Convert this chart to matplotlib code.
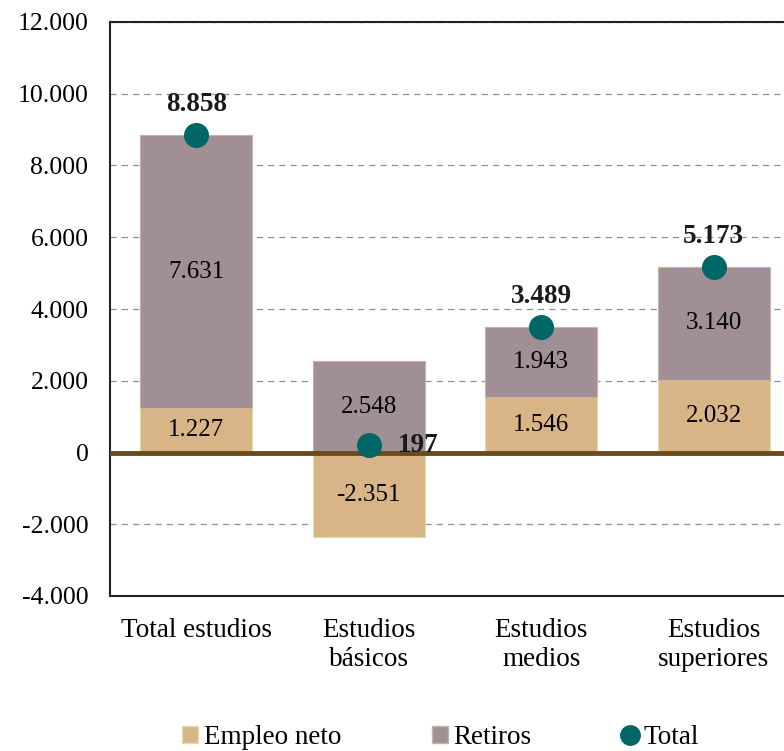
import numpy as np
import matplotlib
matplotlib.use('Agg')
from matplotlib import pyplot as plt
from matplotlib.lines import Line2D
from matplotlib.patches import Patch

categories = ['Total estudios', 'Estudios\nbásicos', 'Estudios\nmedios', 'Estudios\nsuperiores']
empleo_neto = [1227, -2351, 1546, 2032]
retiros = [7631, 2548, 1943, 3140]
total = [8858, 197, 3489, 5173]

def fmt(v):
    # Spanish thousands separator
    s = '{:,}'.format(int(v)).replace(',', '.')
    return s

plt.rcParams['font.family'] = ['Liberation Serif', 'DejaVu Serif']

c_emp = '#D8B487'
c_ret = '#A09096'
c_tot = '#006666'

fig = plt.figure(figsize=(7.84, 7.51), dpi=100)
ax = fig.add_axes([110 / 784, 155 / 751, 690 / 784, 574 / 751])

x = np.arange(len(categories))
w = 0.65
emp = np.array(empleo_neto)
ret = np.array(retiros)
bottom_ret = np.where(emp > 0, emp, 0)

ax.bar(x, emp, w, color=c_emp, edgecolor='#D9E3A8', linewidth=0.8, zorder=2)
ax.bar(x, ret, w, bottom=bottom_ret, color=c_ret, edgecolor='#C8B49A', linewidth=0.8, zorder=2)
ax.axhline(0, color='#6B4A1E', linewidth=3.5, zorder=3)
ax.plot(x, total, 'o', color=c_tot, markersize=17, zorder=4)

for i in range(len(x)):
    ax.text(x[i], emp[i] / 2, fmt(emp[i]), ha='center', va='center', fontsize=18, zorder=5)
    ax.text(x[i], bottom_ret[i] + ret[i] / 2, fmt(ret[i]), ha='center', va='center', fontsize=18, zorder=5)
    if total[i] < 1000:
        ax.text(x[i] + 0.17, total[i], fmt(total[i]), ha='left', va='center',
                fontsize=19.5, fontweight='bold', color='#1a1a1a', zorder=5)
    else:
        ax.text(x[i], total[i] + 500, fmt(total[i]), ha='center', va='bottom',
                fontsize=19.5, fontweight='bold', color='#1a1a1a', zorder=5)

ax.set_xlim(-0.5, 3.5)
ax.set_ylim(-4000, 12000)
yt = np.arange(-4000, 12001, 2000)
ax.set_yticks(yt)
ax.set_yticklabels([fmt(v) for v in yt], fontsize=18.5)
ax.set_xticks(x)
ax.set_xticklabels(categories, fontsize=19.5, linespacing=1.22)
ax.tick_params(axis='x', length=0, pad=16)
ax.tick_params(axis='y', length=0, pad=15.5)
ax.yaxis.grid(True, linestyle=(0, (5, 4)), color='#8890A0', linewidth=0.9, zorder=0)
ax.set_axisbelow(True)
for s in ['top', 'left', 'bottom']:
    ax.spines[s].set_color('#222222')
    ax.spines[s].set_linewidth(1.5)
ax.spines['right'].set_visible(False)

handles = [Patch(facecolor=c_emp, edgecolor='#D9E3A8'),
           Patch(facecolor=c_ret, edgecolor='#C8B49A'),
           Line2D([], [], marker='o', linestyle='none', color=c_tot, markersize=14)]
fig.legend(handles, ['Empleo neto', 'Retiros', 'Total'], loc='lower center',
           bbox_to_anchor=(0.562, -0.031), ncol=3, frameon=False, fontsize=19.5,
           handlelength=0.6, handleheight=0.6, handletextpad=0.2, columnspacing=3.35)

plt.savefig('out.png', dpi=100)
